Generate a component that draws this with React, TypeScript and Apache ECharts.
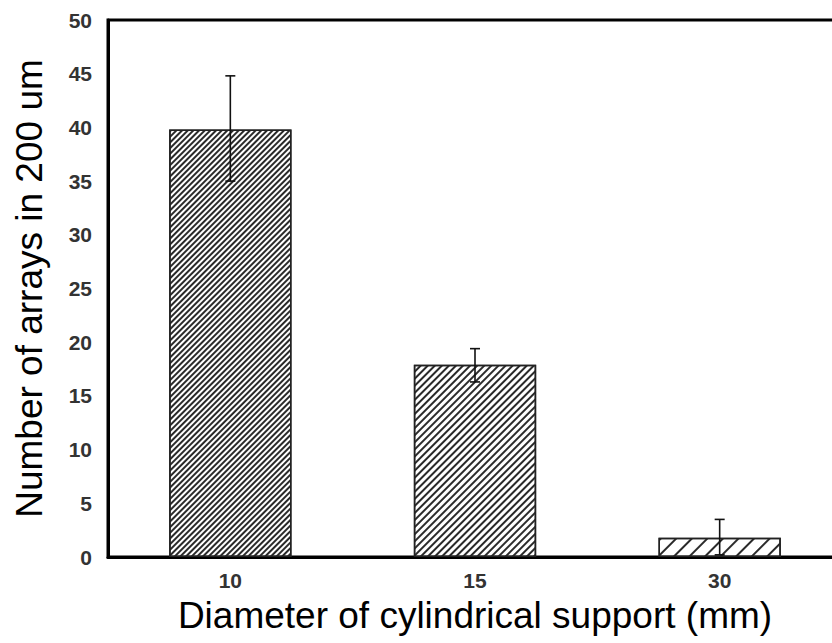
import React, { useEffect, useRef } from "react";
import * as echarts from "echarts";

const categories = ["10", "15", "30"];
const values = [39.8, 17.9, 1.8];
const errLow = [35.0, 16.3, 0.2];
const errHigh = [44.8, 19.4, 3.5];
const yMin = 0;
const yMax = 50;
const yStep = 5;
const xTitle = "Diameter of cylindrical support (mm)";
const yTitle = "Number of arrays in 200 um";

const hatch = (line: number, gap: number) => ({
  symbol: "rect",
  symbolSize: 1,
  color: "#2a2a2a",
  backgroundColor: "#ffffff",
  dashArrayX: [1, 0],
  dashArrayY: [line, gap],
  rotation: -Math.PI / 4,
});

const hatchStyles = [hatch(1.3, 1.7), hatch(1.4, 3.0), hatch(1.4, 9)];

export default function App() {
  const ref = useRef<HTMLDivElement>(null);
  useEffect(() => {
    document.body.style.margin = "0";
    const chart = echarts.init(ref.current!, undefined, { renderer: "svg" });
    chart.setOption({
      animation: false,
      backgroundColor: "#ffffff",
      textStyle: { fontFamily: "Liberation Sans" },
      grid: {
        left: 108,
        top: 20,
        bottom: 86,
        right: -10,
        show: true,
        borderColor: "#000",
        borderWidth: 3,
        containLabel: false,
        outerBoundsMode: "none",
      },
      xAxis: {
        type: "category",
        data: categories,
        axisLine: { show: true, lineStyle: { color: "#000", width: 3 } },
        axisTick: { show: false },
        axisLabel: {
          color: "#333",
          fontWeight: "bold",
          fontSize: 21,
          margin: 13,
          fontFamily: "Liberation Sans",
        },
        name: xTitle,
        nameLocation: "middle",
        nameGap: 40,
        nameTextStyle: { color: "#000", fontSize: 37, fontFamily: "Liberation Sans" },
      },
      yAxis: {
        type: "value",
        min: yMin,
        max: yMax,
        interval: yStep,
        splitLine: { show: false },
        axisLine: { show: true, lineStyle: { color: "#000", width: 3 } },
        axisTick: { show: false },
        axisLabel: {
          color: "#333",
          fontWeight: "bold",
          fontSize: 21,
          margin: 16,
          fontFamily: "Liberation Sans",
        },
        name: yTitle,
        nameLocation: "middle",
        nameGap: 60,
        nameTextStyle: { color: "#000", fontSize: 37, fontFamily: "Liberation Sans" },
      },
      series: [
        {
          type: "bar",
          barWidth: "50%",
          data: values.map((v, i) => ({
            value: v,
            itemStyle: {
              color: "#ffffff",
              borderColor: "#222",
              borderWidth: 1.5,
              decal: hatchStyles[i],
            },
          })),
          z: 2,
        },
        {
          type: "custom",
          z: 5,
          encode: { x: 0, y: [1, 2] },
          data: categories.map((c, i) => [i, errLow[i], errHigh[i]]),
          renderItem: (params: any, api: any) => {
            const x = api.value(0);
            const lo = api.coord([x, api.value(1)]);
            const hi = api.coord([x, api.value(2)]);
            const hw = 5;
            const st = { stroke: "#111", lineWidth: 1.6 };
            return {
              type: "group",
              children: [
                { type: "line", shape: { x1: hi[0], y1: hi[1], x2: lo[0], y2: lo[1] }, style: st },
                { type: "line", shape: { x1: hi[0] - hw, y1: hi[1], x2: hi[0] + hw, y2: hi[1] }, style: st },
                { type: "line", shape: { x1: lo[0] - hw, y1: lo[1], x2: lo[0] + hw, y2: lo[1] }, style: st },
              ],
            };
          },
        },
      ],
    });
    return () => chart.dispose();
  }, []);
  return <div ref={ref} style={{ width: 832, height: 643 }} />;
}
